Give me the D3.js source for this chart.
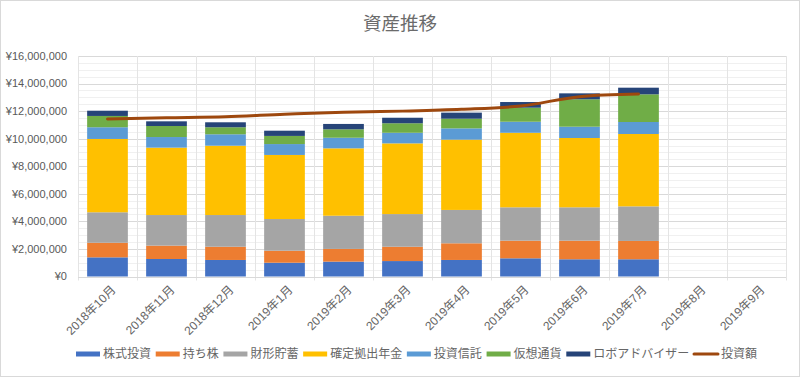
<!DOCTYPE html>
<html>
<head>
<meta charset="utf-8">
<script src="https://cdn.jsdelivr.net/npm/d3@7"></script>
<style>
  body { margin: 0; background: #fff; }
  text { font-family: "Liberation Sans", "Noto Sans CJK JP", sans-serif; fill: #595959; }
</style>
</head>
<body>
<svg id="chart" width="800" height="377"></svg>
<script>
// data (yen)
const months = ["2018年10月", "2018年11月", "2018年12月", "2019年1月", "2019年2月", "2019年3月",
                "2019年4月", "2019年5月", "2019年6月", "2019年7月", "2019年8月", "2019年9月"];
const seriesNames = ["株式投資", "持ち株", "財形貯蓄", "確定拠出年金", "投資信託", "仮想通貨", "ロボアドバイザー"];
const kabushiki = [1390000, 1270000, 1200000, 1000000, 1080000, 1120000, 1200000, 1320000, 1250000, 1250000, null, null];
const mochikabu = [1060000, 970000, 960000, 870000, 920000, 1040000, 1210000, 1280000, 1350000, 1330000, null, null];
const zaikei = [2210000, 2220000, 2300000, 2300000, 2410000, 2370000, 2420000, 2420000, 2420000, 2510000, null, null];
const kakutei = [5320000, 4890000, 5030000, 4650000, 4890000, 5130000, 5100000, 5410000, 5030000, 5250000, null, null];
const toushin = [850000, 770000, 830000, 790000, 770000, 770000, 820000, 800000, 820000, 870000, null, null];
const kasou = [820000, 800000, 510000, 590000, 610000, 690000, 700000, 1020000, 1990000, 2010000, null, null];
const robo = [380000, 340000, 360000, 380000, 390000, 400000, 440000, 410000, 430000, 480000, null, null];
const toushigaku = [11430000, 11520000, 11600000, 11770000, 11910000, 12000000, 12130000, 12370000, 13050000, 13240000, null, null];
const yTicks = [0, 2000000, 4000000, 6000000, 8000000, 10000000, 12000000, 14000000, 16000000];

const colors = ["#4472C4", "#ED7D31", "#A5A5A5", "#FFC000", "#5B9BD5", "#70AD47", "#264478"];
const lineColor = "#9E480E";

const svg = d3.select("#chart");
const W = 800, H = 377;
const pLeft = 78, pRight = 786, pTop = 56, pBottom = 276.5;

// outer border
svg.append("rect").attr("x", 0.5).attr("y", 0.5).attr("width", W - 1).attr("height", H - 1)
    .attr("fill", "#fff").attr("stroke", "#d9d9d9");

// title
svg.append("text").attr("x", 400).attr("y", 30).attr("text-anchor", "middle")
    .style("font-size", "18.5px").style("font-family", "'Noto Sans CJK JP', sans-serif")
    .style("fill", "#6b6b6b")
    .text("資産推移");

const xScale = d3.scaleBand().domain(months).range([pLeft, pRight]).paddingInner(0.31).paddingOuter(0.155);
const yScale = d3.scaleLinear().domain([0, 16000000]).range([pBottom, pTop]);

// minor gridlines
const g = svg.append("g");
g.selectAll(".minor").data(d3.range(500000, 16000001, 500000).filter(v => v % 2000000 !== 0))
    .enter().append("line")
    .attr("x1", pLeft).attr("x2", pRight)
    .attr("y1", d => Math.round(yScale(d)) + 0.5).attr("y2", d => Math.round(yScale(d)) + 0.5)
    .attr("stroke", "#f0f0f0");
// major gridlines
g.selectAll(".major").data(yTicks.slice(1))
    .enter().append("line")
    .attr("x1", pLeft).attr("x2", pRight)
    .attr("y1", d => Math.round(yScale(d)) + 0.5).attr("y2", d => Math.round(yScale(d)) + 0.5)
    .attr("stroke", "#d9d9d9");
// vertical gridlines at category boundaries
const step = xScale.step();
const bounds = d3.range(months.length + 1).map(i => pLeft + i * step);
g.selectAll(".vg").data(bounds).enter().append("line")
    .attr("x1", d => Math.round(d) + 0.5).attr("x2", d => Math.round(d) + 0.5)
    .attr("y1", pTop).attr("y2", pBottom + 4)
    .attr("stroke", "#e4e4e4");

// stacked bars
const table = months.map((m, i) => ({
    month: m,
    "株式投資": kabushiki[i], "持ち株": mochikabu[i], "財形貯蓄": zaikei[i], "確定拠出年金": kakutei[i],
    "投資信託": toushin[i], "仮想通貨": kasou[i], "ロボアドバイザー": robo[i]
})).filter(d => d["株式投資"] !== null);
const stack = d3.stack().keys(seriesNames)(table);

svg.append("g").selectAll("g").data(stack).enter().append("g")
    .attr("fill", (d, i) => colors[i])
    .selectAll("rect").data(d => d).enter().append("rect")
    .attr("x", d => xScale(d.data.month))
    .attr("width", xScale.bandwidth())
    .attr("y", d => yScale(d[1]))
    .attr("height", d => yScale(d[0]) - yScale(d[1]));

// x axis line
svg.append("line").attr("x1", pLeft).attr("x2", pRight)
    .attr("y1", Math.round(pBottom) + 0.5).attr("y2", Math.round(pBottom) + 0.5)
    .attr("stroke", "#d9d9d9");

// y labels
svg.append("g").selectAll("text").data(yTicks).enter().append("text")
    .attr("x", 67).attr("y", d => yScale(d)).attr("dy", "0.35em")
    .attr("text-anchor", "end").style("font-size", "11px")
    .text(d => "¥" + d3.format(",")(d));

// x labels
svg.append("g").selectAll("text").data(months).enter().append("text")
    .attr("transform", d => `translate(${xScale(d) + xScale.bandwidth() / 2 + 6},${pBottom + 11}) rotate(-45)`)
    .attr("text-anchor", "end").attr("dy", "0.35em")
    .style("font-size", "12px").style("fill", "#666")
    .text(d => d);

// line
const lineData = months.map((m, i) => ({month: m, v: toushigaku[i]})).filter(d => d.v !== null);
const line = d3.line()
    .x(d => xScale(d.month) + xScale.bandwidth() / 2)
    .y(d => yScale(d.v))
    .curve(d3.curveCatmullRom.alpha(0.5));
svg.append("path").datum(lineData).attr("d", line)
    .attr("fill", "none").attr("stroke", lineColor).attr("stroke-width", 3)
    .attr("stroke-linecap", "round");

// legend
const legend = svg.append("g").attr("transform", "translate(76,354)");
let lx = 0;
const items = seriesNames.map((n, i) => ({name: n, color: colors[i], type: "bar"}))
    .concat([{name: "投資額", color: lineColor, type: "line"}]);
items.forEach(it => {
    const gi = legend.append("g").attr("transform", `translate(${lx},0)`);
    if (it.type === "bar") {
        gi.append("rect").attr("x", 0).attr("y", -2.5).attr("width", 24).attr("height", 5).attr("fill", it.color);
    } else {
        gi.append("line").attr("x1", 0).attr("x2", 24).attr("y1", 0).attr("y2", 0)
            .attr("stroke", it.color).attr("stroke-width", 3).attr("stroke-linecap", "round");
    }
    const t = gi.append("text").attr("x", 27).attr("y", 0).attr("dy", "0.35em")
        .style("font-size", "12px").style("font-family", "'Noto Sans CJK JP', sans-serif")
        .style("fill", "#666")
        .text(it.name);
    lx += 27 + t.node().getComputedTextLength() + 4.7;
});
</script>
</body>
</html>
